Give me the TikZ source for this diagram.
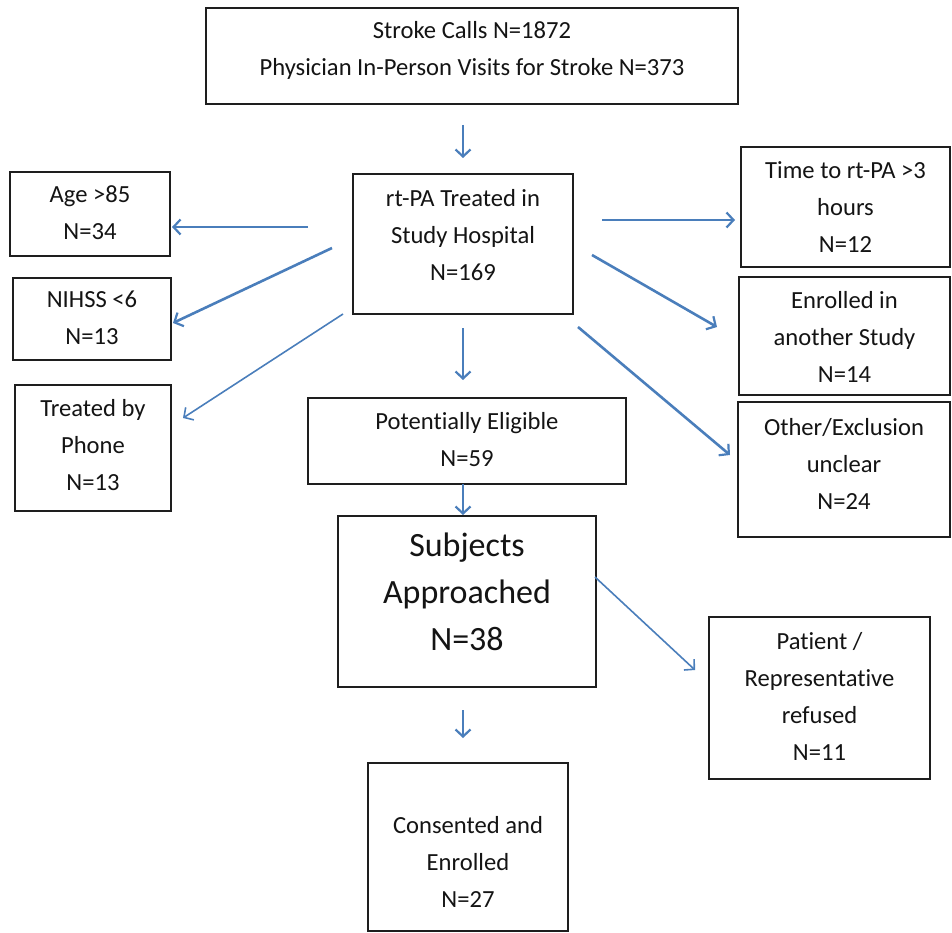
\documentclass[tikz,border=0pt]{standalone}
\usepackage{fontspec}
\setmainfont{Carlito}[Ligatures=NoCommon]
\usetikzlibrary{arrows.meta}
\definecolor{arrblue}{HTML}{4A7EBB}
\definecolor{boxline}{HTML}{1E1E1E}
\definecolor{txtcol}{HTML}{141414}
\tikzset{
  box/.style={draw=boxline, line width=2pt, rectangle, inner sep=0pt, fill=white},
  txt/.style={align=center, text=txtcol, font=\fontsize{24.6}{37}\selectfont, inner sep=0pt},
  bigtxt/.style={align=center, text=txtcol, font=\fontsize{34}{47}\selectfont, inner sep=0pt},
  arr/.style={draw=arrblue, line width=2.6pt, -{Straight Barb[length=7pt,width=15pt,line width=2.2pt]}},
  thinarr/.style={draw=arrblue, line width=1.6pt, -{Straight Barb[length=7pt,width=15pt,line width=1.6pt]}},
}
\begin{document}
\begin{tikzpicture}[x=1pt,y=-1pt]
\useasboundingbox (0,0) rectangle (952,933);
% boxes
\node[box, minimum width=532pt, minimum height=96pt] (top) at (472,56) {};
\node[txt] (topt) at (472,50) {Stroke Calls N=1872\\Physician In-Person Visits for Stroke N=373};
\node[box, minimum width=220pt, minimum height=140pt] (rt) at (463,244) {};
\node[txt] (rtt) at (463,235) {rt-PA Treated in\\Study Hospital\\N=169};
\node[box, minimum width=160pt, minimum height=84pt] (age) at (90,214) {};
\node[txt] (aget) at (90,213) {Age >85\\N=34};
\node[box, minimum width=158pt, minimum height=82pt] (nihss) at (92,319) {};
\node[txt] (nihsst) at (92,318) {NIHSS <6\\N=13};
\node[box, minimum width=156pt, minimum height=126pt] (phone) at (93,448) {};
\node[txt] (phonet) at (93,445) {Treated by\\Phone\\N=13};
\node[box, minimum width=209pt, minimum height=120pt] (time) at (845.5,207) {};
\node[txt] (timet) at (845.5,207) {Time to rt-PA >3\\hours\\N=12};
\node[box, minimum width=211pt, minimum height=118pt] (enr) at (844.5,336) {};
\node[txt] (enrt) at (844.5,337) {Enrolled in\\another Study\\N=14};
\node[box, minimum width=212pt, minimum height=135pt] (oth) at (844,469.5) {};
\node[txt] (otht) at (844,464) {Other/Exclusion\\unclear\\N=24};
\node[box, minimum width=318pt, minimum height=86pt] (pe) at (467,440.5) {};
\node[txt] (pet) at (467,440) {Potentially Eligible\\N=59};
\node[box, minimum width=258pt, minimum height=171pt] (sa) at (467,601.5) {};
\node[bigtxt] (sat) at (467,592) {Subjects\\Approached\\N=38};
\node[box, minimum width=221pt, minimum height=162pt] (pat) at (819.5,698) {};
\node[txt] (patt) at (819.5,696.5) {Patient /\\Representative\\refused\\N=11};
\node[box, minimum width=200pt, minimum height=168pt] (con) at (468,847) {};
\node[txt] (cont) at (468,862) {Consented and\\Enrolled\\N=27};
% connector end points
\coordinate (c1s) at (463,125); \coordinate (c1e) at (463,158);
\coordinate (c2s) at (308,227); \coordinate (c2e) at (172,227);
\coordinate (c3s) at (332,248); \coordinate (c3e) at (173,323);
\coordinate (c4s) at (343,314); \coordinate (c4e) at (183,418);
\coordinate (c5s) at (602,220); \coordinate (c5e) at (735,220);
\coordinate (c6s) at (592,255); \coordinate (c6e) at (717,327);
\coordinate (c7s) at (578,327); \coordinate (c7e) at (730,455);
\coordinate (c8s) at (463,328); \coordinate (c8e) at (463,380);
\coordinate (c9s) at (463,484); \coordinate (c9e) at (463,515);
\coordinate (c10s) at (595,577); \coordinate (c10e) at (695,670);
\coordinate (c11s) at (463,710); \coordinate (c11e) at (463,738);
% connectors
\draw[arr] (c1s) -- (c1e);
\draw[arr] (c2s) -- (c2e);
\draw[arr] (c3s) -- (c3e);
\draw[thinarr] (c4s) -- (c4e);
\draw[arr] (c5s) -- (c5e);
\draw[arr] (c6s) -- (c6e);
\draw[arr] (c7s) -- (c7e);
\draw[arr] (c8s) -- (c8e);
\draw[arr] (c9s) -- (c9e);
\draw[thinarr] (c10s) -- (c10e);
\draw[arr] (c11s) -- (c11e);
\end{tikzpicture}
\end{document}
